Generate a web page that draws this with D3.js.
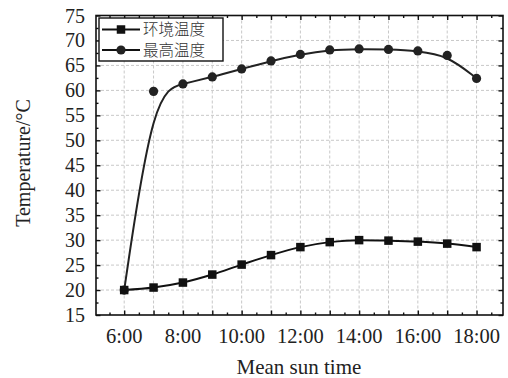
<!DOCTYPE html>
<html>
<head>
<meta charset="utf-8">
<script src="https://cdn.jsdelivr.net/npm/d3@7"></script>
<style>
  html, body { margin: 0; padding: 0; background: #fff; }
  svg { display: block; }
</style>
</head>
<body>
<div id="chart"></div>
<script>
// hours of the day (mean sun time)
const hours = [6, 7, 8, 9, 10, 11, 12, 13, 14, 15, 16, 17, 18];
// 环境温度 (ambient)
const ambient = [20, 20.5, 21.5, 23.1, 25.1, 27.0, 28.6, 29.6, 30.0, 29.9, 29.7, 29.3, 28.6];
// 最高温度 (max) - 6:00 starts from the ambient value
const maxTemp = [20, 59.8, 61.3, 62.7, 64.3, 65.9, 67.2, 68.1, 68.3, 68.2, 67.9, 67.0, 62.4];
const xTickHours = [6, 8, 10, 12, 14, 16, 18];
const yTicks = [15, 20, 25, 30, 35, 40, 45, 50, 55, 60, 65, 70, 75];
const legendNames = ['环境温度', '最高温度'];

const width = 508, height = 378;
const margin = { top: 15.5, right: 5, bottom: 63, left: 96 };
const innerW = width - margin.left - margin.right;
const innerH = height - margin.top - margin.bottom;

const svg = d3.select('#chart').append('svg')
  .attr('width', width).attr('height', height)
  .style('font-family', '"Liberation Serif", "Times New Roman", serif');

const x = d3.scaleLinear().domain([5.04, 18.9]).range([0, innerW]);
const y = d3.scaleLinear().domain([15, 75]).range([innerH, 0]);

const g = svg.append('g').attr('transform', `translate(${margin.left},${margin.top})`);

// grid
g.append('g').selectAll('line').data(hours).join('line')
  .attr('x1', d => x(d)).attr('x2', d => x(d))
  .attr('y1', 0).attr('y2', innerH)
  .attr('stroke', '#c8c8c8').attr('stroke-width', 1).attr('stroke-dasharray', '3,2');
g.append('g').selectAll('line').data(yTicks.slice(1, -1)).join('line')
  .attr('x1', 0).attr('x2', innerW)
  .attr('y1', d => y(d)).attr('y2', d => y(d))
  .attr('stroke', '#c8c8c8').attr('stroke-width', 1).attr('stroke-dasharray', '3,2');

// axes (ticks inward on all four sides)
const xMajor = d3.range(6, 19, 1);
const xMinor = d3.range(5.5, 19, 1);
const yMajor = yTicks;
const yMinor = d3.range(17.5, 75, 5);

function xAxis(gen, vals, size) {
  return gen(x).tickValues(vals).tickSize(size).tickFormat('');
}
function yAxis(gen, vals, size) {
  return gen(y).tickValues(vals).tickSize(size).tickFormat('');
}

const axes = [
  [d3.axisBottom, `translate(0,${innerH})`, xMajor, -4.5, xAxis],
  [d3.axisBottom, `translate(0,${innerH})`, xMinor, -2.5, xAxis],
  [d3.axisTop, 'translate(0,0)', xMajor, -4.5, xAxis],
  [d3.axisTop, 'translate(0,0)', xMinor, -2.5, xAxis],
  [d3.axisLeft, 'translate(0,0)', yMajor, -4.5, yAxis],
  [d3.axisLeft, 'translate(0,0)', yMinor, -2.5, yAxis],
  [d3.axisRight, `translate(${innerW},0)`, yMajor, -4.5, yAxis],
  [d3.axisRight, `translate(${innerW},0)`, yMinor, -2.5, yAxis],
];
axes.forEach(([gen, tr, vals, size, fn]) => {
  const ag = g.append('g').attr('transform', tr).call(fn(gen, vals, size));
  ag.select('.domain').remove();
  ag.selectAll('line').attr('stroke', '#111').attr('stroke-width', 1.4);
});

// frame
g.append('rect').attr('x', 0).attr('y', 0).attr('width', innerW).attr('height', innerH)
  .attr('fill', 'none').attr('stroke', '#111').attr('stroke-width', 1.6);

// tick labels
g.append('g').selectAll('text').data(xTickHours).join('text')
  .attr('x', d => x(d)).attr('y', innerH + 28)
  .attr('text-anchor', 'middle').attr('font-size', 20.5).attr('fill', '#222')
  .text(d => `${d}:00`);
g.append('g').selectAll('text').data(yTicks).join('text')
  .attr('x', -11).attr('y', d => y(d)).attr('dy', '0.35em')
  .attr('text-anchor', 'end').attr('font-size', 20).attr('fill', '#222')
  .text(d => d);

// axis titles
svg.append('text').attr('x', margin.left + x(11.95)).attr('y', 374)
  .attr('text-anchor', 'middle').attr('font-size', 21).attr('fill', '#222')
  .text('Mean sun time');
svg.append('text').attr('transform', `translate(29.5,163) rotate(-90)`)
  .attr('text-anchor', 'middle').attr('font-size', 20).attr('fill', '#222')
  .text('Temperature/°C');

// lines
const maxLine = d3.line().curve(d3.curveBasis)
  .x((d, i) => x(hours[i])).y(d => y(d));
const ambientLine = d3.line().curve(d3.curveMonotoneX)
  .x((d, i) => x(hours[i])).y(d => y(d));

g.append('path').attr('d', maxLine(maxTemp))
  .attr('fill', 'none').attr('stroke', '#222').attr('stroke-width', 2);
g.append('path').attr('d', ambientLine(ambient))
  .attr('fill', 'none').attr('stroke', '#111').attr('stroke-width', 2);

// markers
g.append('g').selectAll('circle').data(maxTemp).join('circle')
  .attr('cx', (d, i) => x(hours[i])).attr('cy', d => y(d)).attr('r', 4.6)
  .attr('fill', '#222');
const sq = 8.5;
g.append('g').selectAll('rect').data(ambient).join('rect')
  .attr('x', (d, i) => x(hours[i]) - sq / 2).attr('y', d => y(d) - sq / 2)
  .attr('width', sq).attr('height', sq).attr('fill', '#111');

// legend
const lg = svg.append('g').attr('transform', 'translate(99,18)');
lg.append('rect').attr('width', 124).attr('height', 43)
  .attr('fill', '#fff').attr('stroke', '#111').attr('stroke-width', 1.4);
legendNames.forEach((name, i) => {
  const ly = 11.5 + i * 20.5;
  const row = lg.append('g');
  row.append('line').attr('x1', 3).attr('x2', 41).attr('y1', ly).attr('y2', ly)
    .attr('stroke', '#111').attr('stroke-width', 2);
  if (i === 0) {
    row.append('rect').attr('x', 22 - sq / 2).attr('y', ly - sq / 2)
      .attr('width', sq).attr('height', sq).attr('fill', '#111');
  } else {
    row.append('circle').attr('cx', 22).attr('cy', ly).attr('r', 4.6).attr('fill', '#222');
  }
  row.append('text').attr('x', 44).attr('y', ly).attr('dy', '0.36em')
    .attr('font-size', 15.5).attr('fill', '#333')
    .style('font-family', '"Noto Sans CJK SC", sans-serif').style('font-weight', 300)
    .text(name);
});
</script>
</body>
</html>
